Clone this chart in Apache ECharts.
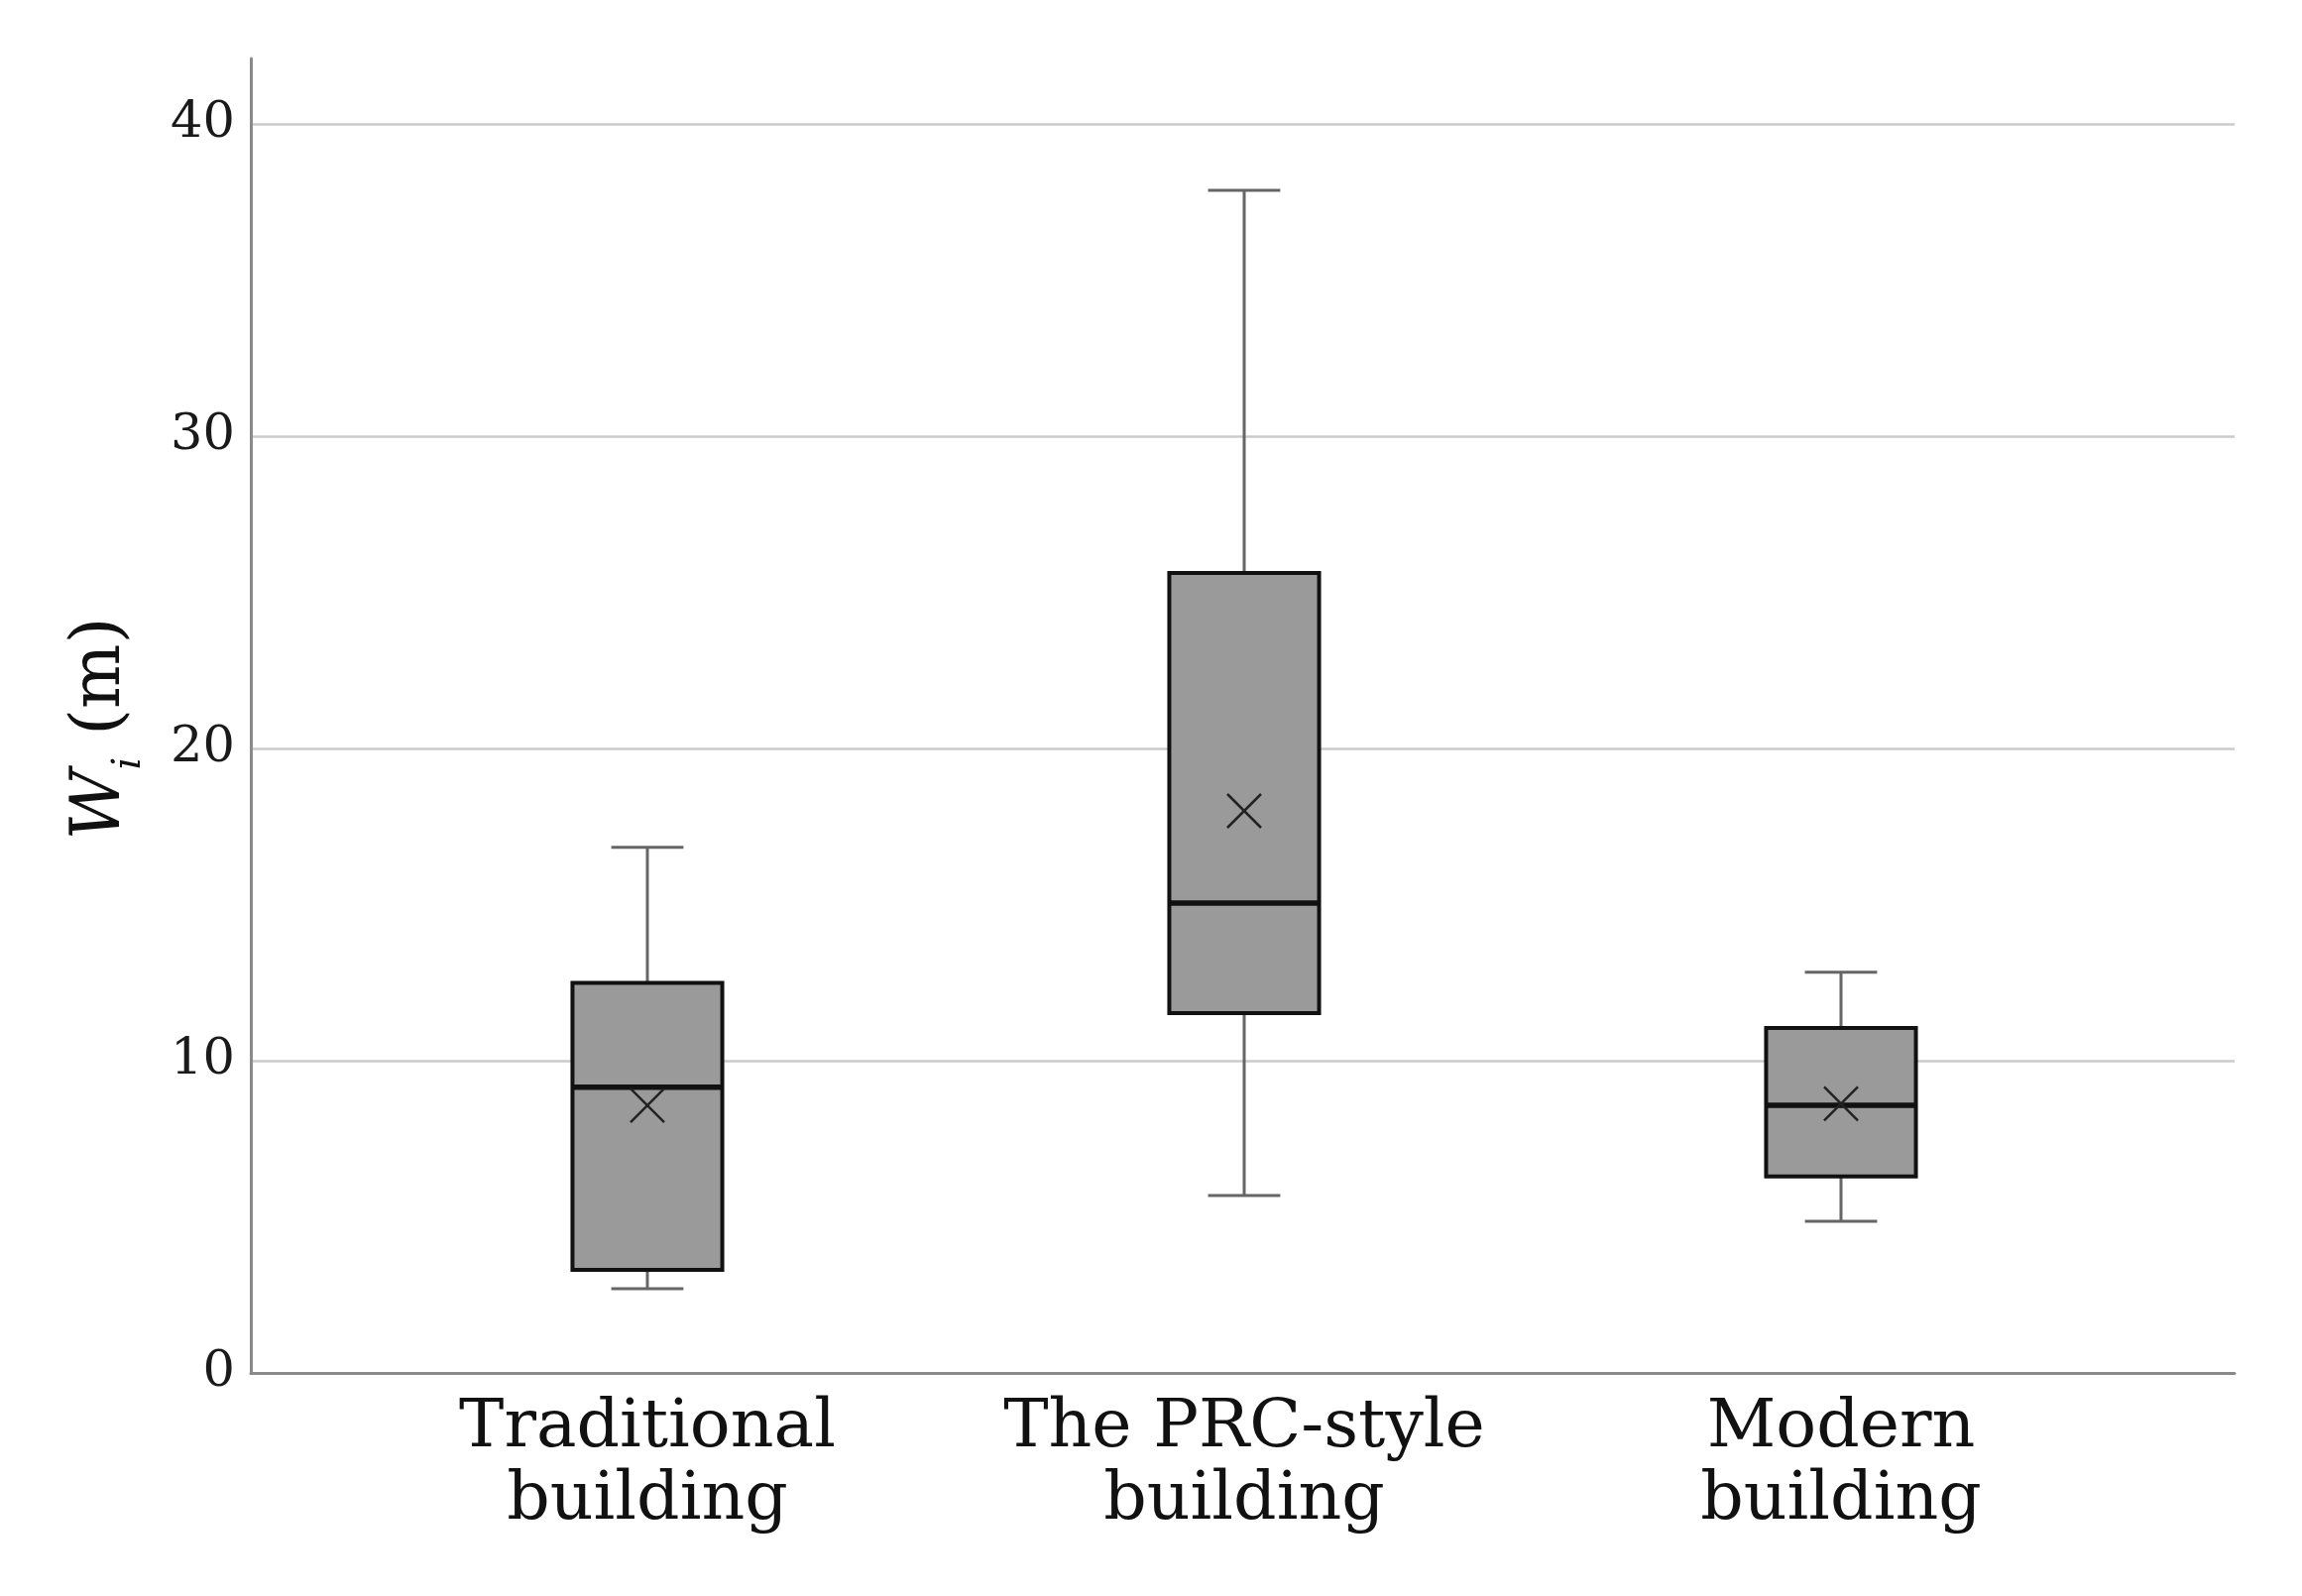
<!DOCTYPE html>
<html>
<head>
<meta charset="utf-8">
<script src="https://cdn.jsdelivr.net/npm/echarts@6/dist/echarts.min.js"></script>
<style>html,body{margin:0;padding:0;background:#fff}#c{width:2322px;height:1610px}</style>
</head>
<body>
<div id="c"></div>
<script>
const categories = ['Traditional\nbuilding', 'The PRC-style\nbuilding', 'Modern\nbuilding'];
const whiskerLow = [2.70, 5.68, 4.86];
const q1Values = [3.30, 11.52, 6.29];
const medianValues = [9.15, 15.05, 8.57];
const q3Values = [12.49, 25.62, 11.05];
const whiskerHigh = [16.83, 37.87, 12.83];
const meanValues = [8.57, 18.0, 8.62];
const yTicks = [0, 10, 20, 30, 40];

const rows = categories.map((c, i) => [i, whiskerLow[i], q1Values[i], medianValues[i], q3Values[i], whiskerHigh[i], meanValues[i]]);

const FONT = '"DejaVu Serif", "Liberation Serif", serif';

function renderBox(params, api) {
  const x = api.value(0);
  const lo = api.coord([x, api.value(1)]);
  const q1 = api.coord([x, api.value(2)]);
  const md = api.coord([x, api.value(3)]);
  const q3 = api.coord([x, api.value(4)]);
  const hi = api.coord([x, api.value(5)]);
  const mn = api.coord([x, api.value(6)]);
  const band = api.size([1, 0])[0];
  const bw = band * 0.251;
  const cw = band * 0.121;
  const cx = lo[0];
  const wStyle = {stroke: '#666', lineWidth: 3};
  const xs = 17;
  return {
    type: 'group',
    children: [
      {type: 'line', shape: {x1: cx, y1: hi[1], x2: cx, y2: q3[1]}, style: wStyle},
      {type: 'line', shape: {x1: cx, y1: q1[1], x2: cx, y2: lo[1]}, style: wStyle},
      {type: 'line', shape: {x1: cx - cw / 2, y1: hi[1], x2: cx + cw / 2, y2: hi[1]}, style: wStyle},
      {type: 'line', shape: {x1: cx - cw / 2, y1: lo[1], x2: cx + cw / 2, y2: lo[1]}, style: wStyle},
      {type: 'rect', shape: {x: cx - bw / 2, y: q3[1], width: bw, height: q1[1] - q3[1]},
        style: {fill: '#9a9a9a', stroke: '#111', lineWidth: 4}},
      {type: 'line', shape: {x1: cx - bw / 2, y1: md[1], x2: cx + bw / 2, y2: md[1]}, style: {stroke: '#111', lineWidth: 5.5}},
      {type: 'line', shape: {x1: cx - xs, y1: mn[1] - xs, x2: cx + xs, y2: mn[1] + xs}, style: {stroke: '#222', lineWidth: 2.5}},
      {type: 'line', shape: {x1: cx - xs, y1: mn[1] + xs, x2: cx + xs, y2: mn[1] - xs}, style: {stroke: '#222', lineWidth: 2.5}}
    ]
  };
}

const chart = echarts.init(document.getElementById('c'), null, {renderer: 'canvas'});
chart.setOption({
  backgroundColor: '#fff',
  animation: false,
  grid: [
    {left: 253, right: 68, top: 59, bottom: 225},
    {left: 253, right: 68, top: 125, bottom: 225},
    {left: 352, right: 164, top: 125, bottom: 225}
  ],
  xAxis: [
    {gridIndex: 0, type: 'value', min: 0, max: 1, z: 10,
      axisLine: {show: true, lineStyle: {color: '#8a8a8a', width: 3}},
      axisTick: {show: false}, axisLabel: {show: false}, splitLine: {show: false}},
    {gridIndex: 1, type: 'value', show: false, min: 0, max: 1},
    {gridIndex: 2, type: 'category', data: categories,
      axisLine: {show: false}, axisTick: {show: false}, splitLine: {show: false},
      axisLabel: {fontFamily: FONT, fontSize: 68, lineHeight: 73, color: '#111', margin: 20, interval: 0}}
  ],
  yAxis: [
    {gridIndex: 0, type: 'value', min: 0, max: 1, z: 10,
      axisLine: {show: true, lineStyle: {color: '#8a8a8a', width: 3}},
      axisTick: {show: false}, axisLabel: {show: false}, splitLine: {show: false}},
    {gridIndex: 1, type: 'value', min: yTicks[0], max: yTicks[yTicks.length - 1], interval: 10,
      axisLine: {show: false}, axisTick: {show: false},
      splitLine: {show: true, lineStyle: {color: '#cbcbcb', width: 2.5}},
      axisLabel: {fontFamily: FONT, fontSize: 51, color: '#1a1a1a', margin: 16},
      name: '{w|W}{s|i}{n| (m)}', nameLocation: 'middle', nameRotate: 90, nameGap: 116,
      nameTextStyle: {
        fontFamily: FONT, color: '#111', padding: [0, 0, 0, 40],
        rich: {
          w: {fontFamily: FONT, fontStyle: 'italic', fontSize: 69, lineHeight: 69, color: '#111'},
          s: {fontFamily: FONT, fontStyle: 'italic', fontSize: 40, lineHeight: 40, verticalAlign: 'bottom', padding: [0, 0, -14, 0], color: '#111'},
          n: {fontFamily: FONT, fontSize: 69, lineHeight: 69, color: '#111'}
        }
      }},
    {gridIndex: 2, type: 'value', min: 0, max: 40, show: false}
  ],
  series: [{
    type: 'custom',
    xAxisIndex: 2, yAxisIndex: 2,
    renderItem: renderBox,
    encode: {x: 0, y: [1, 2, 3, 4, 5, 6]},
    data: rows,
    z: 5
  }]
});
</script>
</body>
</html>
